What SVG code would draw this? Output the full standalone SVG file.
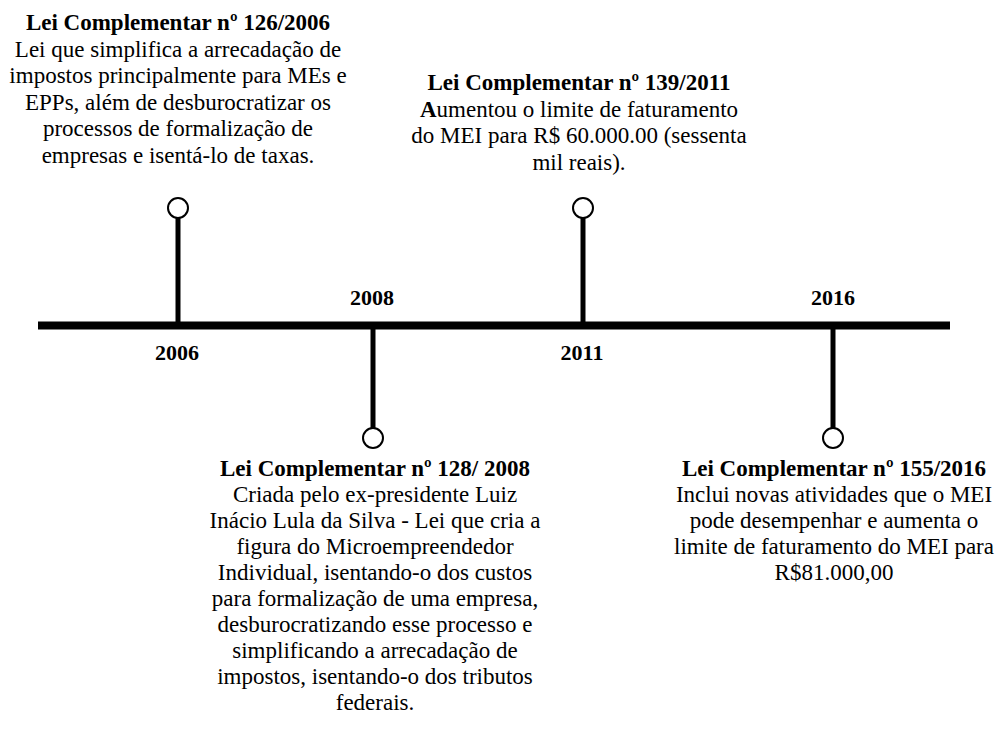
<svg xmlns="http://www.w3.org/2000/svg" width="997" height="740" viewBox="0 0 997 740">
<style>
text{font-family:"Liberation Serif","Times New Roman","DejaVu Serif",serif;fill:#000;text-anchor:middle}
.t{font-size:23px;font-weight:bold}
.b{font-size:23px}
.y{font-size:22px;font-weight:bold}
.stem{stroke:#000;stroke-width:5;fill:none}
.dot{fill:#fff;stroke:#000;stroke-width:2}
</style>
<rect width="997" height="740" fill="#fff"/>
<g id="connectors">
<line x1="38" y1="325.5" x2="950" y2="325.5" stroke="#000" stroke-width="8"/>
<line class="stem" x1="178" y1="217" x2="178" y2="325"/>
<line class="stem" x1="373" y1="326" x2="373" y2="429"/>
<line class="stem" x1="583" y1="217" x2="583" y2="325"/>
<line class="stem" x1="833" y1="326" x2="833" y2="429"/>
</g>
<g id="n2006">
<circle class="dot" cx="178" cy="208" r="10"/>
<text class="y" x="177" y="360">2006</text>
<text class="t" x="178" y="30">Lei Complementar nº 126/2006</text>
<text class="b" x="178" y="56.5">Lei que simplifica a arrecadação de</text>
<text class="b" x="178" y="83">impostos principalmente para MEs e</text>
<text class="b" x="178" y="109.5">EPPs, além de desburocratizar os</text>
<text class="b" x="178" y="136">processos de formalização de</text>
<text class="b" x="178" y="162.5">empresas e isentá-lo de taxas.</text>
</g>
<g id="n2008">
<circle class="dot" cx="373" cy="438" r="10"/>
<text class="y" x="372" y="305">2008</text>
<text class="t" x="375" y="476">Lei Complementar nº 128/ 2008</text>
<text class="b" x="375" y="502">Criada pelo ex-presidente Luiz</text>
<text class="b" x="375" y="528">Inácio Lula da Silva - Lei que cria a</text>
<text class="b" x="375" y="554">figura do Microempreendedor</text>
<text class="b" x="375" y="580">Individual, isentando-o dos custos</text>
<text class="b" x="375" y="606">para formalização de uma empresa,</text>
<text class="b" x="375" y="632">desburocratizando esse processo e</text>
<text class="b" x="375" y="658">simplificando a arrecadação de</text>
<text class="b" x="375" y="684">impostos, isentando-o dos tributos</text>
<text class="b" x="375" y="710">federais.</text>
</g>
<g id="n2011">
<circle class="dot" cx="583" cy="208" r="10"/>
<text class="y" x="582" y="360">2011</text>
<text class="t" x="579" y="90">Lei Complementar nº 139/2011</text>
<text class="b" x="579" y="116.5"><tspan font-weight="bold">A</tspan>umentou o limite de faturamento</text>
<text class="b" x="579" y="143">do MEI para R$ 60.000.00 (sessenta</text>
<text class="b" x="579" y="169.5">mil reais).</text>
</g>
<g id="n2016">
<circle class="dot" cx="833" cy="438" r="10"/>
<text class="y" x="833" y="305">2016</text>
<text class="t" x="834" y="476">Lei Complementar nº 155/2016</text>
<text class="b" x="834" y="502">Inclui novas atividades que o MEI</text>
<text class="b" x="834" y="528">pode desempenhar e aumenta o</text>
<text class="b" x="834" y="554">limite de faturamento do MEI para</text>
<text class="b" x="834" y="580">R$81.000,00</text>
</g>
</svg>
